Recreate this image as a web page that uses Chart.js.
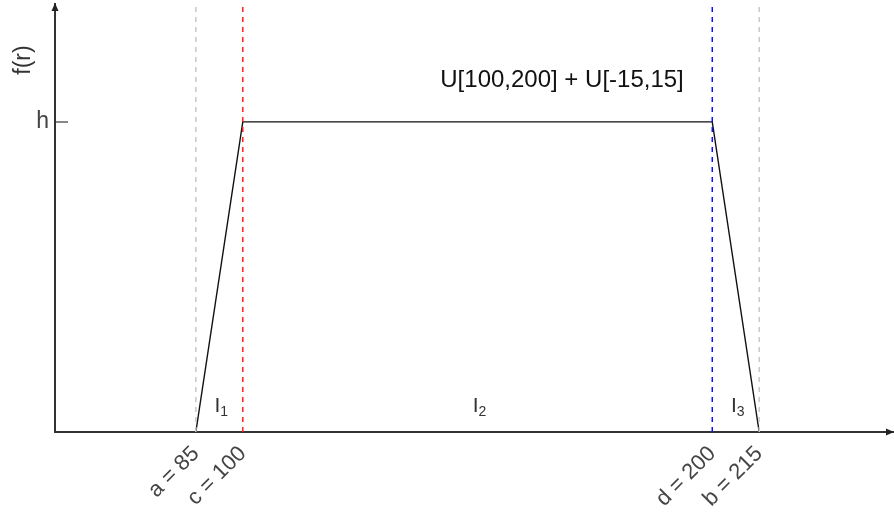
<!DOCTYPE html>
<html>
<head>
<meta charset="utf-8">
<script src="https://cdn.jsdelivr.net/npm/chart.js@4/dist/chart.umd.min.js"></script>
<style>
  body { margin: 0; background: #fff; }
</style>
</head>
<body>
<canvas id="myChart" width="894" height="512"></canvas>
<script>
// corner points of the trapezoid density: a, c, d, b
var r_vals = [85, 100, 200, 215];
var f_vals = [0, 1, 1, 0];
var x_tick_lbl = ['a = 85', 'c = 100', 'd = 200', 'b = 215'];
var y_tick_vals = [1];
var y_tick_lbl = ['h'];
var part_sub = ['1', '2', '3'];          // I1, I2, I3
var sum_lbl = 'U[100,200] + U[-15,15]';

var FONT = '"Liberation Sans", Arial, sans-serif';
var Y_TOP = 1.38;
var guide_colors = ['#c8c8c8', '#ff2020', '#1010ff', '#c8c8c8'];

// the two ramps are drawn squeezed (15 units take the room of 10)
var SQUEEZE = 2 / 3;
function warp(v) {
  if (v < r_vals[1]) return r_vals[1] + (v - r_vals[1]) * SQUEEZE;
  if (v > r_vals[2]) return r_vals[2] + (v - r_vals[2]) * SQUEEZE;
  return v;
}
function unwarp(v) {
  if (v < r_vals[1]) return r_vals[1] + (v - r_vals[1]) / SQUEEZE;
  if (v > r_vals[2]) return r_vals[2] + (v - r_vals[2]) / SQUEEZE;
  return v;
}

class RampScale extends Chart.LinearScale {
  static id = 'ramp';
  getPixelForValue(v) { return super.getPixelForValue(warp(v)); }
  getValueForPixel(p) { return unwarp(super.getValueForPixel(p)); }
}
Chart.register(RampScale);

var datasets = [];
for (var i = 0; i < r_vals.length; i++) {
  datasets.push({
    data: [{x: r_vals[i], y: 0}, {x: r_vals[i], y: Y_TOP}],
    borderColor: guide_colors[i],
    borderWidth: 1.5,
    borderDash: [5, 5],
    pointRadius: 0
  });
}
var trap = [];
for (var i = 0; i < r_vals.length; i++) trap.push({x: r_vals[i], y: f_vals[i]});
datasets.push({
  data: trap,
  borderColor: '#111',
  borderWidth: 1.4,
  pointRadius: 0
});

var extras = {
  id: 'extras',
  afterDraw: function(chart) {
    var c = chart.ctx, xs = chart.scales.x, ys = chart.scales.y, area = chart.chartArea;
    c.save();
    // arrow heads on both axes
    c.fillStyle = '#222';
    c.beginPath();
    c.moveTo(area.left, area.top - 1);
    c.lineTo(area.left - 3.5, area.top + 7);
    c.lineTo(area.left + 3.5, area.top + 7);
    c.closePath();
    c.fill();
    c.beginPath();
    c.moveTo(area.right + 1, area.bottom);
    c.lineTo(area.right - 7, area.bottom - 3.5);
    c.lineTo(area.right - 7, area.bottom + 3.5);
    c.closePath();
    c.fill();

    // sum label above the plateau
    c.fillStyle = '#111';
    c.font = '24px ' + FONT;
    c.textAlign = 'center';
    c.textBaseline = 'middle';
    c.fillText(sum_lbl, xs.getPixelForValue(168), ys.getPixelForValue(1.135));

    // I1, I2, I3 under each piece
    c.fillStyle = '#333';
    c.textAlign = 'left';
    c.textBaseline = 'alphabetic';
    var yb = ys.getPixelForValue(0.065);
    for (var i = 0; i < part_sub.length; i++) {
      var mid = xs.getPixelForValue((r_vals[i] + r_vals[i + 1]) / 2);
      c.font = '21px ' + FONT;
      var w1 = c.measureText('I').width;
      c.font = '14px ' + FONT;
      var w2 = c.measureText(part_sub[i]).width;
      var x0 = mid - (w1 + w2) / 2 + 2;
      c.font = '21px ' + FONT;
      c.fillText('I', x0, yb);
      c.font = '14px ' + FONT;
      c.fillText(part_sub[i], x0 + w1, yb + 4);
    }

    // y axis title
    c.fillStyle = '#333';
    c.font = '23px ' + FONT;
    c.textAlign = 'center';
    c.textBaseline = 'middle';
    c.translate(24, 60);
    c.rotate(-Math.PI / 2);
    c.fillText('f(r)', 0, 0);
    c.restore();
  }
};

var ctx = document.getElementById('myChart').getContext('2d');
var chart = new Chart(ctx, {
  type: 'line',
  data: { datasets: datasets },
  plugins: [extras],
  options: {
    responsive: false,
    animation: false,
    layout: { padding: { top: 4, right: 1, left: 0, bottom: 0 } },
    plugins: { legend: { display: false }, tooltip: { enabled: false } },
    scales: {
      x: {
        type: 'ramp',
        min: 60,
        max: 238.5,
        afterBuildTicks: function(s) {
          s.ticks = r_vals.map(function(v) { return {value: v}; });
        },
        afterFit: function(s) { s.height = 80; s.paddingLeft = 0; s.paddingRight = 0; },
        ticks: {
          autoSkip: false,
          minRotation: 45,
          maxRotation: 45,
          padding: 9,
          color: '#444',
          font: { family: FONT, size: 22 },
          callback: function(v, i) { return x_tick_lbl[i]; }
        },
        grid: { display: false, drawTicks: false },
        border: { display: true, color: '#333', width: 2 }
      },
      y: {
        type: 'linear',
        min: 0,
        max: Y_TOP,
        afterBuildTicks: function(s) {
          s.ticks = y_tick_vals.map(function(v) { return {value: v}; });
        },
        afterFit: function(s) { s.width = 55; s.paddingTop = 0; s.paddingBottom = 0; },
        ticks: {
          padding: 19,
          color: '#444',
          font: { family: FONT, size: 23 },
          callback: function(v, i) { return y_tick_lbl[i]; }
        },
        grid: { drawOnChartArea: false, drawTicks: true, tickLength: -13, color: '#888', lineWidth: 2 },
        border: { display: true, color: '#333', width: 2 }
      }
    }
  }
});
</script>
</body>
</html>
